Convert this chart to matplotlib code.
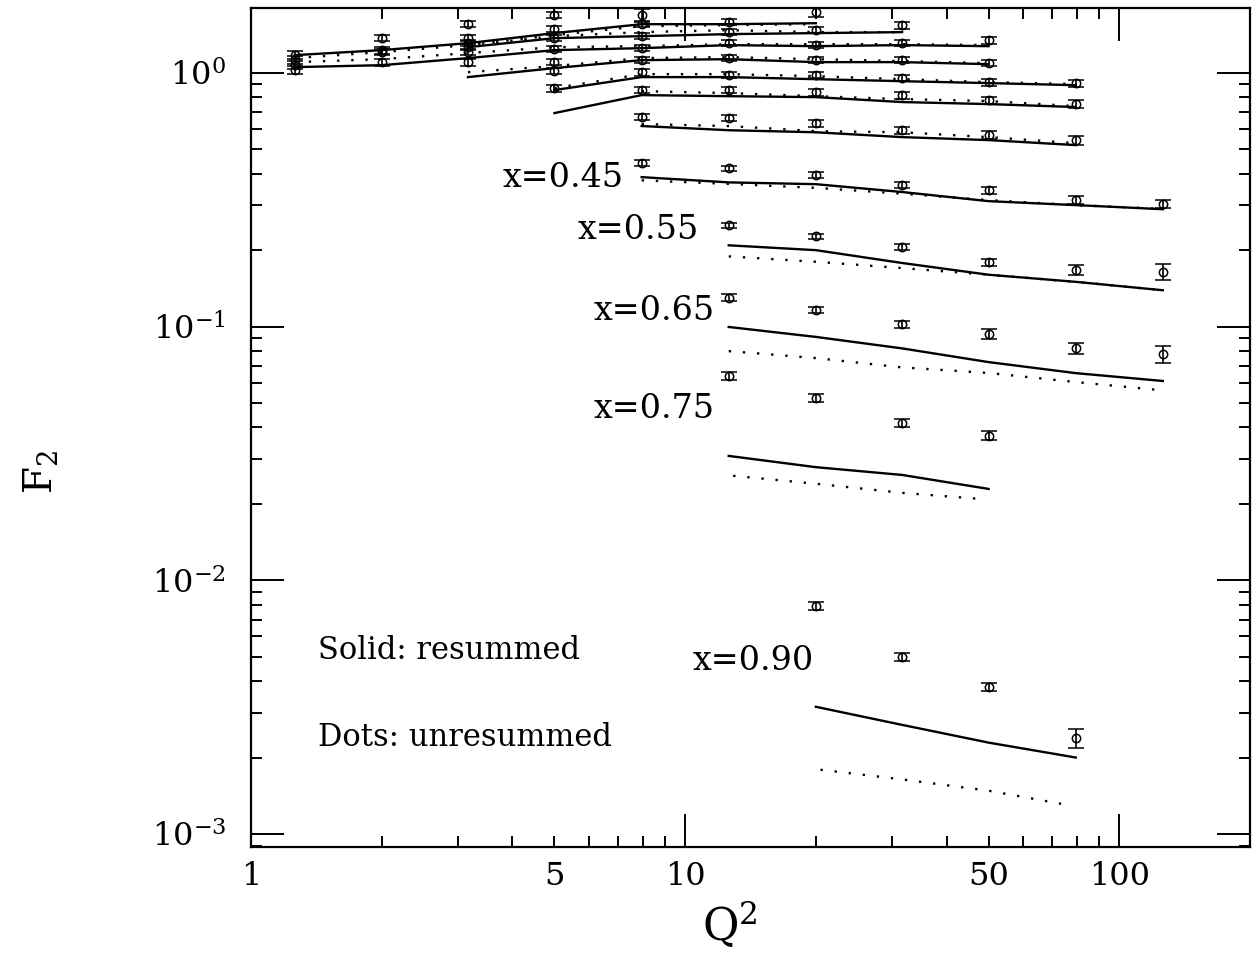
import matplotlib
matplotlib.use("Agg")
import math
import matplotlib.pyplot as plt
import matplotlib.ticker as mticker

plt.rcParams['font.family'] = ['DejaVu Serif']
plt.rcParams['mathtext.fontset'] = 'dejavuserif'

# measured F2 points, one list per x bin (top to bottom); first bin has no curves
data_q2 = [
    [1.26, 1.26, 2.0, 2.0, 3.16, 3.16, 5.0, 7.94],
    [1.26, 2.0, 3.16, 5.0, 7.94, 12.6, 20.0],
    [3.16, 5.0, 7.94, 12.6, 20.0, 31.6],
    [1.26, 2.0, 3.16, 5.0, 7.94, 12.6, 20.0, 31.6, 50.0],
    [3.16, 5.0, 7.94, 12.6, 20.0, 31.6, 50.0],
    [5.0, 7.94, 12.6, 20.0, 31.6, 50.0, 79.4],
    [5.0, 7.94, 12.6, 20.0, 31.6, 50.0, 79.4],
    [7.94, 12.6, 20.0, 31.6, 50.0, 79.4],
    [7.94, 12.6, 20.0, 31.6, 50.0, 79.4, 126.0],
    [12.6, 20.0, 31.6, 50.0, 79.4, 126.0],
    [12.6, 20.0, 31.6, 50.0, 79.4, 126.0],
    [12.6, 20.0, 31.6, 50.0],
    [20.0, 31.6, 50.0, 79.4],
]
data_f2 = [
    [1.122, 1.025, 1.370, 1.207, 1.555, 1.262, 1.688, 1.688],
    [1.174, 1.229, 1.370, 1.487, 1.555, 1.584, 1.734],
    [1.309, 1.370, 1.395, 1.447, 1.473, 1.542],
    [1.072, 1.102, 1.207, 1.240, 1.251, 1.309, 1.286, 1.309, 1.345],
    [1.102, 1.102, 1.122, 1.143, 1.122, 1.122, 1.092],
    [1.016, 1.006, 0.979, 0.979, 0.953, 0.919, 0.911],
    [0.870, 0.855, 0.855, 0.839, 0.817, 0.781, 0.753],
    [0.669, 0.663, 0.634, 0.594, 0.568, 0.543],
    [0.441, 0.421, 0.395, 0.361, 0.345, 0.315, 0.304],
    [0.251, 0.227, 0.206, 0.179, 0.167, 0.164],
    [0.130, 0.116, 0.102, 0.0934, 0.0822, 0.078],
    [0.0638, 0.0523, 0.0417, 0.0371],
    [0.00792, 0.00499, 0.0038, 0.00239],
]
data_err = [
    [0.04, 0.035, 0.04, 0.035, 0.04, 0.035, 0.05, 0.10],
    [0.04, 0.04, 0.04, 0.04, 0.045, 0.045, 0.07],
    [0.035, 0.035, 0.04, 0.04, 0.04, 0.05],
    [0.04, 0.035, 0.035, 0.035, 0.035, 0.035, 0.035, 0.035, 0.045],
    [0.035, 0.03, 0.03, 0.03, 0.03, 0.03, 0.03],
    [0.03, 0.03, 0.028, 0.028, 0.028, 0.028, 0.03],
    [0.028, 0.025, 0.025, 0.025, 0.025, 0.025, 0.028],
    [0.02, 0.02, 0.02, 0.02, 0.02, 0.022],
    [0.012, 0.01, 0.01, 0.011, 0.011, 0.012, 0.012],
    [0.006, 0.005, 0.006, 0.006, 0.007, 0.012],
    [0.004, 0.003, 0.003, 0.004, 0.004, 0.006],
    [0.0025, 0.0018, 0.0015, 0.0015],
    [0.0003, 0.00018, 0.00015, 0.0002],
]

# theory curves (solid = resummed, dots = unresummed)
resummed_q2 = [
    [],
    [1.26, 2.0, 3.16, 5.0, 7.94, 12.6, 20.0],
    [3.16, 5.0, 7.94, 12.6, 20.0, 31.6],
    [1.26, 2.0, 3.16, 5.0, 7.94, 12.6, 20.0, 31.6, 50.0],
    [3.16, 5.0, 7.94, 12.6, 20.0, 31.6, 50.0],
    [5.0, 7.94, 12.6, 20.0, 31.6, 50.0, 79.4],
    [5.0, 7.94, 12.6, 20.0, 31.6, 50.0, 79.4],
    [7.94, 12.6, 20.0, 31.6, 50.0, 79.4],
    [7.94, 12.6, 20.0, 31.6, 50.0, 79.4, 126.0],
    [12.6, 20.0, 31.6, 50.0, 79.4, 126.0],
    [12.6, 20.0, 31.6, 50.0, 79.4, 126.0],
    [12.6, 20.0, 31.6, 50.0],
    [20.0, 31.6, 50.0, 79.4],
]
resummed = [
    [],
    [1.174, 1.229, 1.309, 1.434, 1.555, 1.555, 1.569],
    [1.262, 1.370, 1.395, 1.421, 1.434, 1.447],
    [1.053, 1.072, 1.143, 1.229, 1.251, 1.286, 1.274, 1.286, 1.274],
    [0.962, 1.044, 1.122, 1.132, 1.102, 1.102, 1.082],
    [0.855, 0.962, 0.962, 0.944, 0.927, 0.911, 0.894],
    [0.694, 0.817, 0.809, 0.802, 0.767, 0.753, 0.733],
    [0.617, 0.594, 0.583, 0.558, 0.543, 0.519],
    [0.388, 0.370, 0.364, 0.339, 0.312, 0.301, 0.290],
    [0.209, 0.200, 0.178, 0.160, 0.150, 0.139],
    [0.0996, 0.091, 0.082, 0.0724, 0.0655, 0.061],
    [0.0309, 0.0279, 0.026, 0.0229],
    [0.00317, 0.00269, 0.00229, 0.0020],
]
unresummed_q2 = [
    [],
    [1.26, 2.0, 3.16, 5.0, 7.94, 12.6, 20.0],
    [3.16, 5.0, 7.94, 12.6, 20.0, 31.6],
    [1.26, 2.0, 3.16, 5.0, 7.94, 12.6, 20.0, 31.6, 50.0],
    [3.16, 5.0, 7.94, 12.6, 20.0, 31.6, 50.0],
    [5.0, 7.94, 12.6, 20.0, 31.6, 50.0, 79.4],
    [7.94, 12.6, 20.0, 31.6, 50.0, 79.4],
    [7.94, 12.6, 20.0, 31.6, 50.0, 79.4],
    [7.94, 12.6, 20.0, 31.6, 50.0, 79.4, 126.0],
    [12.6, 20.0, 31.6, 50.0, 79.4, 126.0],
    [12.6, 20.0, 31.6, 50.0, 79.4, 126.0],
    [12.9, 20.0, 31.6, 48.0],
    [20.5, 31.6, 50.0, 78.0],
]
unresummed = [
    [],
    [1.143, 1.207, 1.286, 1.408, 1.528, 1.542, 1.555],
    [1.286, 1.395, 1.447, 1.473, 1.447, 1.447],
    [1.102, 1.132, 1.196, 1.262, 1.274, 1.297, 1.297, 1.297, 1.286],
    [1.006, 1.063, 1.143, 1.153, 1.132, 1.112, 1.092],
    [0.870, 0.988, 0.988, 0.970, 0.944, 0.919, 0.903],
    [0.847, 0.832, 0.809, 0.788, 0.774, 0.739],
    [0.628, 0.617, 0.589, 0.583, 0.558, 0.528],
    [0.377, 0.365, 0.352, 0.334, 0.315, 0.301, 0.291],
    [0.189, 0.180, 0.170, 0.160, 0.150, 0.139],
    [0.080, 0.0751, 0.069, 0.0656, 0.0604, 0.056],
    [0.0258, 0.0240, 0.0221, 0.0209],
    [0.00179, 0.00164, 0.00148, 0.00129],
]

bin_labels = ['x=0.45', 'x=0.55', 'x=0.65', 'x=0.75', 'x=0.90']
x_ticklabels = {1: '1', 5: '5', 10: '10', 50: '50', 100: '100'}

fig = plt.figure(figsize=(12.57, 9.61), dpi=100)
ax = fig.add_axes([0.1997, 0.1189, 0.7947, 0.8727])
ax.set_xscale('log')
ax.set_yscale('log')

for i in range(len(data_q2)):
    ax.errorbar(data_q2[i], data_f2[i], yerr=data_err[i], fmt='o', mfc='none',
                mec='k', ms=6, mew=1.1, ecolor='k', elinewidth=1.2,
                capsize=6, capthick=1.6)
    if resummed[i]:
        ax.plot(resummed_q2[i], resummed[i], color='k', lw=1.7)
        ax.plot(unresummed_q2[i], unresummed[i], color='k', lw=1.7,
                linestyle=(0, (1, 5)))

ax.set_xlim(1, 200)
ax.set_ylim(8.9e-4, 1.8)

ax.xaxis.set_major_locator(mticker.FixedLocator([1, 10, 100]))
ax.xaxis.set_minor_locator(mticker.FixedLocator(
    [m * d for d in (1, 10, 100) for m in range(2, 10)]))
fmt_x = mticker.FuncFormatter(lambda v, p: x_ticklabels.get(int(round(v)), '')
                              if abs(v - round(v)) < 1e-6 else '')
ax.xaxis.set_major_formatter(fmt_x)
ax.xaxis.set_minor_formatter(fmt_x)

ax.yaxis.set_major_locator(mticker.LogLocator(base=10, numticks=10))
ax.yaxis.set_minor_locator(mticker.LogLocator(base=10, subs=range(2, 10), numticks=20))
ax.yaxis.set_minor_formatter(mticker.NullFormatter())
ax.yaxis.set_major_formatter(mticker.FuncFormatter(
    lambda v, p: r'$10^{%d}$' % round(math.log10(v))))

ax.tick_params(which='both', direction='in', top=True, right=True, width=1.4)
ax.tick_params(which='major', length=24)
ax.tick_params(which='minor', length=8)
ax.tick_params(axis='x', which='both', labelsize=23, pad=10)
ax.tick_params(axis='y', which='both', labelsize=23, pad=18)
for s in ax.spines.values():
    s.set_linewidth(1.6)

fig.text(730 / 1257, 1 - 925 / 961, r'Q$^{2}$', fontsize=32, ha='center', va='center')
fig.text(40 / 1257, 1 - 472 / 961, r'F$_{2}$', fontsize=28, ha='center', va='center',
         rotation=90)

label_pos = [(0.2523, 0.7977), (0.3273, 0.7357), (0.3433, 0.6391),
             (0.3433, 0.5223), (0.4424, 0.2213)]
for lab, (px, py) in zip(bin_labels, label_pos):
    ax.text(px, py, lab, transform=ax.transAxes, fontsize=24, ha='left', va='center')

ax.text(0.0671, 0.2345, 'Solid: resummed', transform=ax.transAxes,
        fontsize=22, ha='left', va='center')
ax.text(0.0671, 0.1308, 'Dots: unresummed', transform=ax.transAxes,
        fontsize=22, ha='left', va='center')

fig.savefig('out.png', dpi=100)
